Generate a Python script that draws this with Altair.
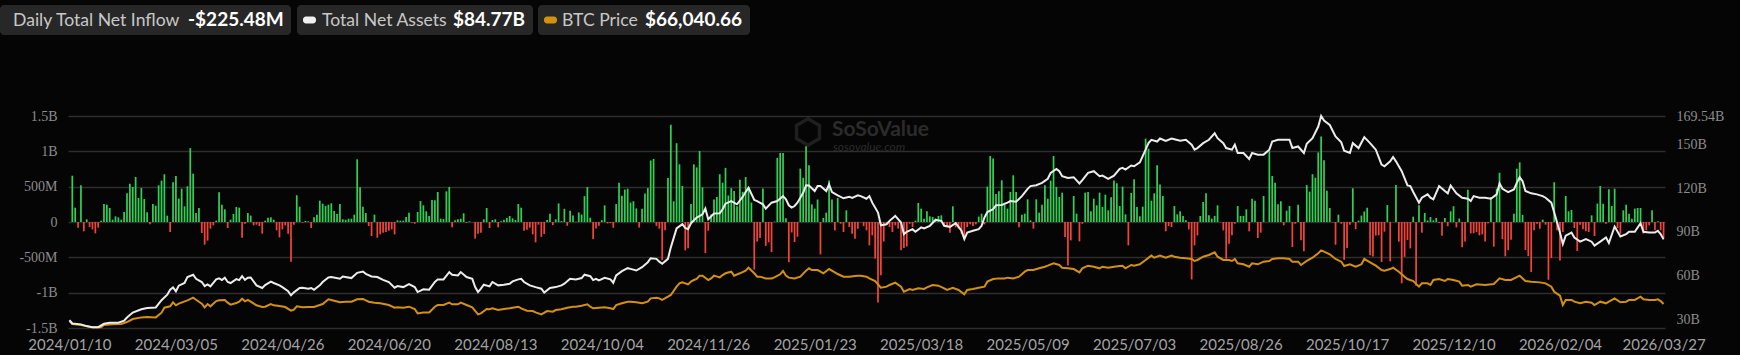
import altair as alt
import pandas as pd

# ---------------- data ----------------
# Daily total net inflow, US$ millions, one value per trading day, index 0 = 2024/01/10
daily_net_inflow_musd = [
    0, 655, 203, -80, 519, -132, 38, -71, -104, -160,
    -80, 19, 255, 245, 198, 33, 80, 66, 33, 142,
    406, 542, 495, 637, 340, 481, 325, 137, -33, 255,
    231, 519, 585, 675, 90, -142, 562, 651, 330, 472,
    222, 505, 1045, 684, 127, 198, -156, -321, -264, -94,
    -47, 19, 420, 245, 179, -85, 33, 113, 212, 203,
    -222, -24, 127, 90, -47, -38, -57, -165, 19, 61,
    66, 33, -118, -217, -104, -47, -165, -564, -38, 378,
    217, -9, 14, 9, -85, 66, 104, 302, 259, 226,
    245, 264, 156, 113, 255, 38, 33, 47, 47, 104,
    887, 491, 217, 127, -57, -198, 104, -222, -175, -151,
    -142, -123, -104, -175, 24, 19, 19, 71, 132, -9,
    -24, 142, 297, 236, 151, 85, 312, 307, 425, 47,
    42, 434, 496, -76, 24, 38, 47, 123, -14, 9,
    0, -236, -168, -151, 38, 198, -85, 28, 38, -76,
    9, 33, 57, 85, 52, 28, 255, 203, -123, -108,
    -80, -175, -288, -37, -211, -170, 29, 117, -44, 39,
    263, 13, 187, -53, 158, 93, 5, 136, 106, 366,
    494, 61, -243, -92, -54, 26, 235, -19, -16, -81,
    254, 556, 371, 459, 471, 274, 294, 192, -79, 188,
    402, 479, 870, 893, -55, -94, -541, -117, 622, 1376,
    294, 1115, 817, 510, -401, -371, 256, 816, 773, 1004,
    490, -438, -123, 105, 320, 353, 676, 556, 766, 376,
    479, 439, 224, 597, 428, 637, 493, 275, -672, -277,
    -226, 475, -338, -287, -426, 5, 908, 978, 978, 52,
    -568, -149, -284, -209, 755, 626, 1072, 802, 249, 189,
    318, -458, 57, 132, 588, 318, -118, 340, -24, -142,
    165, -71, -165, -236, -94, 0, -60, -118, -330, -189,
    -516, -1138, -755, -276, -24, -71, -142, -47, -94, -401,
    -368, -345, -24, -71, 19, 269, 189, 47, 151, 80,
    71, 47, 85, 94, -61, -71, -151, 222, -76, -94,
    -165, -236, -71, -33, -57, -33, 76, 118, -33, 500,
    935, 897, 396, 434, 590, 245, 189, 425, 661, 425,
    -76, 104, 118, 321, 24, -94, 321, 132, 245, 519,
    330, 585, 935, 496, 354, 415, -212, -614, -260, 368,
    118, -274, -24, 415, 425, 151, 330, 236, 415, 212,
    387, 165, 350, 588, 548, 226, 501, 108, -330, 411,
    604, 212, 80, 217, 1180, 1038, 302, 406, 802, 529,
    368, -132, -57, -71, 226, 108, 151, 85, 24, -104,
    -812, -330, -189, 85, 283, 406, 94, 47, 85, 236,
    0, -118, -519, -307, -189, -24, 226, 85, 85, 179,
    -132, 330, 302, -227, -151, 368, 0, 1000, 651, 557,
    250, 293, -47, 160, 226, -354, -24, 245, -260, -415,
    522, 430, 676, 627, 985, 1210, 875, 441, 198, -4,
    -321, 104, -24, -536, -367, -40, 477, -101, 20, 91,
    149, 202, -471, -488, -192, -187, -566, -137, 240, -558,
    1, 524, -278, -867, -492, -254, -373, 75, -903, 238,
    -151, 129, 21, 71, 24, 58, -15, -195, 55, -60,
    152, 223, -77, 49, -358, -277, 457, -161, -158, -142,
    -189, -175, -276, -19, 355, -348, 471, 697, -243, -486,
    -398, -250, 117, 754, 844, 100, -395, -483, -709, -118,
    -24, -94, 33, -38, -818, -510, 562, -118, -545, -142,
    368, 151, 170, -85, -411, -38, -104, -132, -142, 94,
    -198, 260, 510, 260, -24, 463, 226, 472, -85, -165,
    165, 245, 118, 47, 189, 198, 198, -165, -118, -47,
    165, -118, 9, -118, -225.48,
]

# Total net assets, US$ billions: (trading-day index, value)
total_net_assets_points = [
    (0, 29.3), (1, 27.0), (4, 26.4), (6, 25.2), (8, 24.5), (10, 24.5), (12, 26.8), (14, 27.5),
    (17, 27.5), (19, 28.9), (20, 31.1), (22, 34.5), (25, 36.8), (27, 37.7), (30, 38.0), (32, 43.0),
    (34, 46.8), (35, 50.2), (36, 51.8), (37, 49.1), (38, 53.0), (40, 54.8), (41, 58.9), (43, 60.5),
    (44, 57.7), (46, 55.5), (47, 52.7), (48, 53.9), (49, 52.5), (51, 57.3), (52, 58.0), (53, 56.8),
    (54, 58.4), (55, 55.5), (56, 54.8), (58, 57.5), (59, 56.8), (60, 59.5), (61, 57.0), (62, 58.4),
    (63, 58.6), (65, 53.2), (67, 51.4), (68, 53.4), (70, 55.7), (71, 54.8), (73, 53.2), (74, 52.0),
    (76, 49.1), (77, 46.4), (78, 48.4), (80, 51.4), (81, 51.6), (83, 50.9), (84, 51.4), (85, 50.2),
    (87, 53.2), (88, 55.5), (90, 58.6), (91, 58.9), (94, 57.7), (95, 59.3), (98, 58.2), (100, 61.8),
    (102, 62.7), (103, 61.1), (105, 59.3), (107, 58.9), (109, 57.0), (111, 55.5), (113, 51.6),
    (114, 52.7), (116, 52.0), (118, 54.1), (120, 52.0), (121, 48.6), (123, 50.5), (125, 50.2),
    (127, 55.5), (128, 57.3), (130, 57.3), (132, 62.3), (133, 60.5), (135, 60.0), (136, 62.3),
    (138, 58.9), (140, 57.7), (141, 52.0), (142, 48.6), (143, 50.9), (144, 53.6), (146, 52.5),
    (147, 55.5), (149, 53.2), (151, 53.6), (153, 54.3), (154, 55.9), (156, 57.3), (157, 57.7),
    (158, 55.5), (160, 53.2), (162, 52.0), (164, 50.9), (165, 48.2), (167, 51.4), (169, 52.0),
    (171, 53.2), (172, 54.3), (174, 57.7), (176, 57.3), (178, 58.2), (179, 60.5), (181, 59.5),
    (182, 56.8), (183, 57.7), (184, 56.6), (186, 58.4), (188, 57.3), (189, 55.0), (190, 60.0),
    (192, 63.0), (194, 65.0), (195, 64.5), (197, 63.4), (199, 65.7), (201, 69.1), (202, 71.8),
    (204, 71.4), (205, 69.5), (206, 68.0), (208, 71.4), (209, 79.3), (211, 92.3), (213, 95.2),
    (214, 92.7), (215, 91.8), (216, 95.9), (218, 99.8), (220, 102.0), (221, 105.9), (222, 98.6),
    (224, 102.5), (226, 102.7), (227, 105.5), (228, 109.3), (230, 111.1), (232, 108.9),
    (234, 114.1), (235, 117.3), (236, 120.2), (238, 111.8), (239, 111.1), (241, 108.9),
    (242, 105.9), (244, 110.0), (246, 111.1), (248, 114.5), (249, 112.3), (250, 108.2),
    (251, 106.6), (252, 107.7), (253, 110.0), (255, 116.8), (256, 122.0), (257, 121.8),
    (259, 118.0), (260, 121.4), (261, 121.4), (263, 118.0), (264, 122.5), (265, 117.3),
    (267, 115.0), (269, 113.0), (271, 114.1), (272, 113.2), (274, 115.0), (275, 114.5),
    (277, 112.7), (278, 114.5), (279, 110.0), (281, 103.2), (282, 94.5), (284, 95.2), (285, 97.5),
    (287, 100.9), (289, 96.4), (290, 88.4), (291, 90.0), (293, 91.8), (294, 90.0), (296, 93.0),
    (297, 92.3), (299, 94.1), (301, 98.2), (303, 97.5), (304, 94.1), (306, 93.4), (308, 95.9),
    (310, 90.7), (311, 85.0), (312, 89.5), (314, 90.7), (316, 91.8), (317, 94.1), (318, 99.8),
    (319, 103.6), (321, 105.5), (322, 108.2), (324, 108.4), (326, 110.0), (327, 111.1),
    (329, 110.7), (331, 114.5), (333, 119.5), (334, 121.4), (336, 122.0), (338, 123.6),
    (340, 126.4), (341, 130.5), (343, 133.2), (344, 131.6), (345, 128.2), (347, 127.0),
    (349, 127.5), (351, 123.2), (352, 125.5), (354, 130.5), (356, 131.6), (358, 128.2),
    (359, 128.6), (361, 126.4), (363, 128.6), (365, 133.2), (366, 133.9), (367, 132.7),
    (369, 135.5), (370, 135.0), (372, 137.7), (374, 146.4), (375, 150.9), (376, 153.2),
    (378, 152.0), (379, 154.1), (381, 152.5), (383, 154.1), (384, 153.6), (386, 152.5),
    (388, 153.2), (390, 149.8), (391, 146.4), (392, 147.5), (394, 150.9), (396, 153.2),
    (398, 157.7), (399, 154.3), (401, 150.9), (402, 147.5), (404, 146.4), (405, 149.8),
    (406, 144.1), (408, 144.1), (410, 140.0), (411, 144.1), (413, 143.0), (415, 143.0),
    (417, 146.4), (418, 152.0), (420, 153.2), (422, 153.2), (424, 153.2), (425, 147.5),
    (427, 148.6), (429, 144.1), (430, 150.5), (432, 154.3), (434, 162.3), (435, 169.54),
    (436, 166.4), (438, 163.4), (440, 155.5), (442, 151.4), (443, 145.7), (445, 144.1),
    (446, 150.9), (448, 147.5), (450, 155.0), (452, 150.9), (454, 146.4), (456, 136.1),
    (457, 135.0), (459, 138.4), (460, 141.4), (461, 138.4), (463, 131.6), (465, 121.8),
    (466, 121.4), (467, 117.3), (469, 110.0), (470, 113.4), (472, 115.7), (473, 113.4),
    (474, 112.3), (476, 121.4), (478, 118.0), (479, 116.4), (480, 121.8), (482, 116.4),
    (484, 113.4), (486, 112.7), (487, 111.1), (488, 114.5), (490, 113.4), (492, 113.4),
    (494, 112.7), (496, 115.7), (497, 123.2), (498, 119.5), (500, 117.3), (502, 119.1),
    (503, 123.6), (504, 127.5), (505, 124.8), (506, 118.0), (508, 116.4), (510, 115.7),
    (512, 114.5), (513, 113.4), (515, 110.0), (516, 103.2), (517, 96.4), (518, 89.5),
    (519, 81.6), (520, 87.3), (522, 89.5), (523, 86.1), (525, 83.2), (527, 85.0), (529, 83.2),
    (530, 80.5), (532, 83.2), (534, 86.1), (535, 82.3), (537, 93.6), (539, 86.8), (541, 88.4),
    (542, 90.0), (544, 90.0), (546, 95.9), (547, 90.0), (549, 89.5), (551, 89.5), (552, 90.7),
    (553, 88.4), (554, 84.77),
]

# BTC price, thousand US$: (trading-day index, value)
btc_price_points = [
    (0, 47.3), (1, 44.0), (4, 42.9), (6, 41.4), (8, 40.3), (11, 40.3), (12, 42.9), (15, 43.6),
    (18, 44.0), (20, 46.2), (22, 49.5), (25, 51.3), (27, 51.7), (30, 51.3), (32, 56.5), (33, 62.0),
    (35, 63.5), (36, 67.9), (37, 64.6), (38, 66.4), (41, 70.1), (43, 73.0), (44, 70.8), (46, 66.4),
    (47, 62.4), (48, 66.0), (49, 63.5), (51, 69.3), (52, 70.1), (54, 70.5), (55, 67.5), (56, 65.3),
    (58, 67.1), (59, 68.6), (60, 71.9), (61, 69.0), (62, 70.5), (63, 68.6), (65, 64.6), (67, 62.7),
    (68, 63.1), (70, 66.0), (71, 64.6), (73, 63.8), (75, 62.7), (77, 58.7), (78, 59.8), (79, 63.5),
    (81, 62.4), (83, 62.7), (85, 62.7), (87, 64.9), (88, 66.0), (90, 71.2), (91, 70.5), (94, 67.9),
    (96, 68.6), (98, 68.6), (100, 71.2), (102, 71.6), (104, 68.6), (106, 67.5), (108, 66.8),
    (111, 64.9), (113, 62.0), (114, 62.4), (116, 62.0), (118, 63.1), (120, 60.5), (121, 55.7),
    (123, 56.8), (125, 56.8), (127, 63.1), (128, 64.9), (130, 64.9), (132, 67.5), (133, 65.7),
    (135, 65.7), (136, 67.5), (138, 64.9), (140, 62.4), (142, 54.6), (143, 55.7), (145, 60.5),
    (146, 60.2), (147, 61.3), (149, 59.4), (151, 60.5), (153, 61.3), (154, 62.0), (156, 63.1),
    (157, 61.3), (159, 58.7), (161, 58.3), (162, 56.8), (164, 54.6), (166, 58.3), (168, 57.6),
    (169, 59.4), (171, 60.2), (173, 62.0), (175, 63.1), (176, 63.1), (178, 64.2), (180, 65.7),
    (181, 63.1), (182, 61.3), (184, 62.0), (186, 62.4), (188, 61.3), (189, 60.5), (190, 64.9),
    (192, 66.8), (194, 68.6), (195, 68.6), (197, 67.9), (199, 66.8), (201, 68.6), (202, 72.3),
    (204, 73.0), (205, 72.3), (206, 70.5), (208, 74.1), (209, 76.0), (211, 85.2), (212, 88.8),
    (213, 89.9), (215, 87.7), (216, 90.7), (217, 92.5), (218, 93.6), (219, 97.3), (220, 97.3),
    (222, 92.5), (223, 94.3), (224, 97.3), (226, 95.4), (227, 98.0), (228, 99.9), (230, 101.7),
    (231, 97.3), (233, 99.9), (235, 102.8), (236, 106.1), (238, 99.9), (239, 96.2), (240, 96.2),
    (242, 94.3), (244, 94.3), (245, 95.4), (247, 98.8), (248, 102.4), (249, 97.3), (250, 95.1),
    (252, 94.3), (254, 96.2), (256, 102.8), (257, 105.4), (258, 103.5), (260, 103.5),
    (261, 101.7), (262, 99.9), (264, 104.6), (266, 100.9), (267, 99.1), (269, 96.2), (271, 96.2),
    (273, 96.9), (274, 97.3), (275, 97.3), (277, 96.2), (278, 94.3), (280, 91.4), (282, 84.0),
    (284, 85.2), (285, 87.0), (287, 89.6), (289, 85.2), (290, 79.6), (292, 82.6), (293, 81.5),
    (295, 83.3), (297, 82.6), (298, 84.4), (300, 87.0), (302, 86.3), (304, 83.3), (305, 81.5),
    (307, 84.0), (309, 81.5), (311, 76.7), (312, 81.5), (314, 82.6), (316, 84.0), (318, 85.2),
    (319, 90.7), (321, 93.6), (323, 94.3), (325, 94.3), (326, 95.1), (328, 94.3), (330, 96.2),
    (332, 101.7), (333, 103.5), (335, 103.5), (337, 105.4), (339, 107.2), (340, 108.3),
    (342, 110.9), (344, 109.1), (345, 106.1), (347, 105.4), (349, 104.6), (351, 100.9),
    (352, 105.4), (354, 108.3), (356, 107.2), (358, 105.4), (359, 107.2), (361, 106.1),
    (363, 107.2), (365, 108.0), (366, 108.3), (367, 105.4), (369, 109.1), (370, 108.3),
    (372, 109.8), (374, 114.6), (376, 119.4), (377, 117.1), (379, 119.4), (381, 117.1),
    (383, 119.4), (384, 118.2), (386, 117.1), (388, 116.4), (390, 115.7), (391, 113.5),
    (392, 114.6), (394, 118.2), (396, 120.1), (398, 123.0), (399, 118.2), (401, 114.6),
    (403, 114.6), (404, 113.5), (405, 115.7), (406, 110.9), (408, 109.8), (410, 107.2),
    (411, 110.9), (413, 109.8), (415, 112.7), (417, 113.5), (418, 115.7), (420, 116.4),
    (422, 116.4), (424, 115.7), (425, 112.7), (427, 112.7), (428, 109.1), (430, 113.5),
    (432, 117.1), (434, 122.0), (435, 125.2), (436, 123.8), (438, 120.8), (440, 115.7),
    (442, 112.7), (443, 107.9), (445, 109.8), (447, 107.2), (449, 109.8), (450, 115.7),
    (452, 112.0), (454, 108.3), (456, 103.5), (457, 102.8), (459, 104.6), (460, 106.1),
    (462, 101.7), (464, 96.2), (465, 93.6), (467, 91.4), (469, 85.2), (470, 88.8), (472, 88.8),
    (473, 87.0), (474, 92.5), (476, 93.6), (478, 91.4), (479, 93.6), (481, 92.5), (483, 90.7),
    (484, 86.3), (486, 87.0), (487, 85.2), (489, 87.7), (492, 87.0), (495, 88.1), (497, 94.3),
    (499, 92.5), (501, 92.5), (504, 97.3), (506, 91.4), (508, 90.7), (511, 89.9), (513, 88.8),
    (515, 85.2), (516, 79.6), (518, 75.2), (519, 64.9), (520, 70.5), (522, 70.5), (523, 68.6),
    (525, 66.8), (527, 68.6), (529, 67.5), (530, 64.9), (532, 68.6), (534, 66.8), (535, 68.6),
    (537, 72.3), (539, 67.9), (541, 68.6), (542, 70.5), (544, 70.5), (546, 74.1), (547, 71.2),
    (549, 70.5), (551, 70.5), (552, 71.2), (553, 69.3), (554, 66.04),
]

x_tick_labels = [
    "2024/01/10", "2024/03/05", "2024/04/26", "2024/06/20", "2024/08/13", "2024/10/04",
    "2024/11/26", "2025/01/23", "2025/03/18", "2025/05/09", "2025/07/03", "2025/08/26",
    "2025/10/17", "2025/12/10", "2026/02/04", "2026/03/27",
]
x_tick_index = [0, 37, 74, 111, 148, 185, 222, 259, 296, 333, 370, 407, 444, 481, 518, 554]

left_ticks_musd = [-1500, -1000, -500, 0, 500, 1000, 1500]
right_ticks_bn = [30, 60, 90, 120, 150, 169.54]

assert len(daily_net_inflow_musd) == 555, len(daily_net_inflow_musd)
N = len(daily_net_inflow_musd)

# ---------------- style ----------------
GREEN = "#2fd155"
RED = "#f2443a"
WHITE = "#ececec"
ORANGE = "#d4910f"
GRID = "#2e2e2e"
BG = "#050505"
BOX = "#272727"

flow_df = pd.DataFrame({
    "i": list(range(N)),
    "flow": daily_net_inflow_musd,
})
flow_df["x0"] = flow_df["i"] + 0.2
flow_df["x1"] = flow_df["i"] + 0.8

assets_df = pd.DataFrame(total_net_assets_points, columns=["i", "v"])
assets_df["xc"] = assets_df["i"] + 0.5
btc_df = pd.DataFrame(btc_price_points, columns=["i", "v"])
btc_df["xc"] = btc_df["i"] + 0.5

xscale = alt.Scale(domain=[0, N], nice=False, zero=False)
label_array = "[" + ",".join("'%s'" % s for s in x_tick_labels) + "]"
xaxis = alt.Axis(
    values=[t + 0.5 for t in x_tick_index],
    labelExpr=label_array + "[round((datum.value - 0.5) / 37)]",
    grid=False, domain=False, ticks=False, labelFlush=False, labelOverlap=False,
    labelFont="Lato", labelFontSize=15, labelColor="#a3a3a3", labelPadding=9,
    title=None,
)

left_axis = alt.Axis(
    orient="left", values=left_ticks_musd,
    labelExpr="datum.value == 0 ? '0' : (abs(datum.value) >= 1000 ? (datum.value / 1000) + 'B' : datum.value + 'M')",
    grid=True, gridColor=GRID, gridWidth=1.5, domain=False, ticks=False,
    labelFont="Liberation Serif", labelFontSize=14, labelColor="#8c8c8c", labelPadding=11,
    title=None,
)
right_axis = alt.Axis(
    orient="right", values=right_ticks_bn, labelExpr="datum.value + 'B'",
    grid=False, domain=False, ticks=False,
    labelFont="Liberation Serif", labelFontSize=14, labelColor="#8c8c8c", labelPadding=11,
    title=None,
)

bars = alt.Chart(flow_df).mark_bar().encode(
    x=alt.X("x0:Q", scale=xscale, axis=xaxis, title=None),
    x2="x1:Q",
    y=alt.Y("flow:Q", scale=alt.Scale(domain=[-1500, 1500], nice=False, zero=False), axis=left_axis),
    y2=alt.datum(0),
    color=alt.condition("datum.flow >= 0", alt.value(GREEN), alt.value(RED)),
)

btc_line = alt.Chart(btc_df).mark_line(color=ORANGE, strokeWidth=2).encode(
    x=alt.X("xc:Q", scale=xscale, axis=xaxis, title=None),
    y=alt.Y("v:Q", scale=alt.Scale(domain=[39.6, 273.3], nice=False, zero=False), axis=None),
)

assets_line = alt.Chart(assets_df).mark_line(color=WHITE, strokeWidth=2).encode(
    x=alt.X("xc:Q", scale=xscale, axis=xaxis, title=None),
    y=alt.Y("v:Q", scale=alt.Scale(domain=[23.9, 169.54], nice=False, zero=False), axis=right_axis),
)

# ---------------- header and watermark (decoration) ----------------
one = pd.DataFrame({"d": [0]})
base = alt.Chart(one)


def box(x0, x1):
    return base.mark_rect(fill=BOX, cornerRadius=4).encode(
        x=alt.value(x0), x2=alt.value(x1), y=alt.value(-111), y2=alt.value(-81))


def txt(s, x, size=17.6, bold=False, color="#c8c8c8"):
    return base.mark_text(text=s, font="Lato", fontSize=size, fontWeight="bold" if bold else "normal",
                          color=color, align="left", baseline="alphabetic").encode(
        x=alt.value(x), y=alt.value(-90))


def marker(x0, color):
    return base.mark_rect(fill=color, cornerRadius=3).encode(
        x=alt.value(x0), x2=alt.value(x0 + 13), y=alt.value(-99.5), y2=alt.value(-92.5))


header = [
    box(-68, 223), txt("Daily Total Net Inflow", -55), txt("-$225.48M", 120, 19, True, "#ffffff"),
    box(229, 465), marker(235, "#f0f0f0"), txt("Total Net Assets", 254), txt("$84.77B", 385, 19, True, "#ffffff"),
    box(470, 682), marker(476, ORANGE), txt("BTC Price", 494), txt("$66,040.66", 577, 19, True, "#ffffff"),
]

hexpath = "M0,-1L0.866,-0.5L0.866,0.5L0,1L-0.866,0.5L-0.866,-0.5Z"
watermark = [
    base.mark_point(shape=hexpath, size=700, filled=False, stroke="#2b2b2b", strokeWidth=3.5).encode(
        x=alt.value(740), y=alt.value(16)),
    base.mark_text(text="SoSoValue", font="Lato", fontSize=21, fontWeight="bold", color="#2b2b2b",
                   align="left", baseline="alphabetic").encode(x=alt.value(764), y=alt.value(20)),
    base.mark_text(text="sosovalue.com", font="Lato", fontSize=12, fontStyle="italic", color="#2b2b2b",
                   align="left", baseline="alphabetic").encode(x=alt.value(765), y=alt.value(35)),
]

chart = alt.layer(
    *watermark, bars, btc_line, assets_line, *header
).resolve_scale(
    y="independent"
).properties(
    width=1597, height=212,
    autosize=alt.AutoSizeParams(type="none"),
    padding={"left": 68, "top": 116, "right": 75, "bottom": 27},
    background=BG,
).configure_view(stroke=None)

chart.save("out.html", embed_options={"renderer": "svg", "actions": False})
